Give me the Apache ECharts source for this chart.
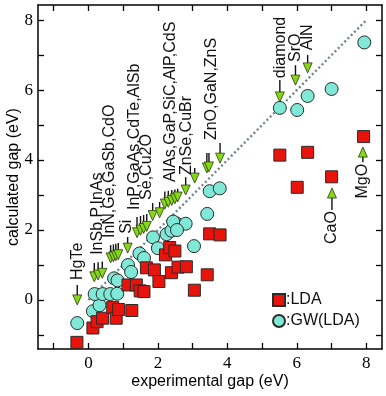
<!DOCTYPE html>
<html>
<head>
<meta charset="utf-8">
<script src="https://cdn.jsdelivr.net/npm/echarts@6/dist/echarts.min.js"></script>
<style>
html, body { margin: 0; padding: 0; background: #fff; }
#chart { width: 386px; height: 396px; }
</style>
</head>
<body>
<div id="chart"></div>
<script>
// LDA gaps (squares): experimental gap vs calculated gap
var ldaX = [-0.33, 0.13, 0.25, 0.41, 0.70, 0.80, 0.87, 1.14, 1.25, 1.38, 1.49, 1.60, 1.67, 1.90, 2.03,
            2.22, 2.34, 2.49, 2.39, 2.58, 2.82, 3.05, 3.42, 3.49, 3.79, 5.51, 6.01, 6.31, 7.00, 7.92];
var ldaY = [-1.21, -0.80, -0.62, -0.52, -0.21, -0.52, -0.27, 0.43, -0.30, 0.43, 0.26, 0.24, 0.92, 0.86, 0.53,
            1.29, 1.50, 1.40, 0.78, 0.94, 0.95, 0.28, 0.72, 1.89, 1.86, 4.14, 3.22, 4.22, 3.52, 4.67];
// GW(LDA) gaps (circles)
var gwX = [-0.32, 0.13, 0.32, 0.18, 0.41, 0.63, 0.83, 0.74, 0.84, 1.14, 1.23, 1.47, 1.60, 1.86, 2.00,
           2.25, 2.39, 2.53, 2.80, 2.44, 2.55, 3.04, 3.42, 3.49, 3.78, 5.51, 6.01, 6.31, 7.00, 7.94];
var gwY = [-0.66, -0.32, -0.15, 0.17, 0.17, 0.17, 0.18, 0.62, 0.56, 1.00, 0.80, 1.33, 1.20, 1.79, 1.48,
           1.88, 1.98, 2.19, 2.18, 2.24, 2.00, 1.54, 2.46, 3.11, 3.19, 5.49, 5.43, 5.83, 6.03, 7.36];

// arrows: x, tail y, tip y
var arrowX    = [-0.32, 0.17, 0.28, 0.40, 0.64, 0.72, 0.79, 0.86, 1.13, 1.40, 1.50, 1.59, 1.68, 1.85, 2.05,
                 2.20, 2.30, 2.40, 2.49, 2.57, 2.80, 3.06, 3.41, 3.47, 3.79, 5.51, 5.96, 6.31, 7.01, 7.90];
var arrowTail = [0.43, 1.06, 1.08, 1.10, 1.57, 1.59, 1.61, 1.63, 1.80, 2.37, 2.40, 2.43, 2.46, 2.77, 2.80,
                 3.10, 3.12, 3.14, 3.16, 3.18, 3.51, 3.77, 4.20, 4.20, 4.49, 6.29, 6.71, 7.00, 2.57, 3.94];
var arrowTip  = [-0.14, 0.52, 0.57, 0.62, 1.06, 1.09, 1.12, 1.15, 1.34, 1.78, 1.85, 1.90, 1.96, 2.27, 2.35,
                 2.60, 2.65, 2.70, 2.75, 2.80, 3.00, 3.34, 3.63, 3.66, 3.91, 5.66, 6.14, 6.49, 3.20, 4.37];

// compound labels: x, y of the end next to the arrow, text, which side of the anchor
var labelX    = [-0.32, 0.26, 0.61, 1.10, 1.33, 1.68, 2.37, 2.83, 3.55, 5.52, 5.95, 6.30, 6.99, 7.90];
var labelY    = [0.57, 1.29, 1.77, 1.89, 2.57, 2.86, 3.37, 3.57, 4.57, 6.34, 6.80, 7.14, 2.54, 3.89];
var labelText = ['HgTe', 'InSb,P,InAs', 'InN,Ge,GaSb,CdO', 'Si', 'InP,GaAs,CdTe,AlSb', 'Se,Cu2O',
                 'AlAs,GaP,SiC,AlP,CdS', 'ZnSe,CuBr', 'ZnO,GaN,ZnS', 'diamond', 'SrO', 'AlN', 'CaO', 'MgO'];
var labelSide = ['up', 'up', 'up', 'up', 'up', 'up', 'up', 'up', 'up', 'up', 'up', 'up', 'down', 'down'];

var majorTicks = [0, 2, 4, 6, 8];
var minorTicks = [-1, 0, 1, 2, 3, 4, 5, 6, 7, 8];
var diagonal = [[0, 0], [8, 8]];

function zip(a, b) { return a.map(function(v, i) { return [v, b[i]]; }); }

var chart = echarts.init(document.getElementById('chart'), null, { renderer: 'canvas' });

var serif = 'Liberation Serif';
var sans = 'Liberation Sans';

function axisBase(pos, min, max, showLabel) {
  return {
    type: 'value',
    position: pos,
    min: min,
    max: max,
    axisLine: { show: true, onZero: false, lineStyle: { color: '#000', width: 1.5 } },
    axisTick: { show: true, inside: true, length: 6, lineStyle: { color: '#000', width: 1.3 }, customValues: minorTicks },
    axisLabel: { show: showLabel, customValues: majorTicks, color: '#000', fontSize: 17, fontFamily: serif },
    splitLine: { show: false }
  };
}

var xBottom = axisBase('bottom', -1.45, 8.45, true);
xBottom.axisLabel.margin = 6;
xBottom.name = 'experimental gap (eV)';
xBottom.nameLocation = 'middle';
xBottom.nameGap = 25;
xBottom.nameMoveOverlap = false;
xBottom.nameTextStyle = { fontSize: 16, fontFamily: sans, color: '#000' };
var xTop = axisBase('top', -1.45, 8.45, false);

var yLeft = axisBase('left', -1.4, 8.43, true);
yLeft.axisLabel.margin = 5;
yLeft.name = 'calculated gap (eV)';
yLeft.nameLocation = 'middle';
yLeft.nameGap = 16;
yLeft.nameMoveOverlap = false;
yLeft.nameTextStyle = { fontSize: 16, fontFamily: sans, color: '#000' };
var yRight = axisBase('right', -1.4, 8.43, false);

function renderArrow(params, api) {
  var x = api.value(0);
  var a = api.coord([x, api.value(1)]);
  var b = api.coord([x, api.value(2)]);
  var dir = b[1] > a[1] ? 1 : -1;
  var headLen = 10, headW = 4.5;
  var baseY = b[1] - dir * headLen;
  return {
    type: 'group',
    children: [
      { type: 'line', shape: { x1: a[0], y1: a[1], x2: a[0], y2: baseY },
        style: { stroke: '#111', lineWidth: 1.4 } },
      { type: 'polygon', shape: { points: [[b[0], b[1]], [b[0] - headW, baseY], [b[0] + headW, baseY]] },
        style: { fill: '#84d815', stroke: '#2a3a10', lineWidth: 0.8 } }
    ]
  };
}

function renderLabel(params, api) {
  var i = params.dataIndex;
  var p = api.coord([api.value(0), api.value(1)]);
  return {
    type: 'text',
    x: p[0],
    y: p[1],
    rotation: Math.PI / 2,
    style: {
      text: labelText[i],
      align: labelSide[i] === 'down' ? 'right' : 'left',
      verticalAlign: 'middle',
      fontSize: 16,
      fontFamily: sans,
      fill: '#111'
    }
  };
}

chart.setOption({
  animation: false,
  grid: { left: 38, right: 4, top: 5, bottom: 47, containLabel: false, outerBoundsMode: 'none' },
  xAxis: [xBottom, xTop],
  yAxis: [yLeft, yRight],
  legend: {
    orient: 'vertical',
    left: 267,
    top: 287,
    itemWidth: 12,
    itemHeight: 12,
    itemGap: 5,
    data: ['LDA', 'GW(LDA)'],
    formatter: ':{name}',
    textStyle: { fontSize: 16, fontFamily: sans, color: '#111', padding: [0, 0, 0, -4] }
  },
  series: [
    {
      type: 'line',
      data: diagonal,
      symbol: 'none',
      silent: true,
      z: 1,
      lineStyle: { color: '#6b878b', width: 2.4, type: [2, 2.6] }
    },
    {
      name: 'GW(LDA)',
      type: 'scatter',
      data: zip(gwX, gwY),
      symbol: 'circle',
      symbolSize: 13,
      z: 3,
      itemStyle: { color: '#80e8d6', borderColor: '#2b2b2b', borderWidth: 1, opacity: 1 }
    },
    {
      name: 'LDA',
      type: 'scatter',
      data: zip(ldaX, ldaY),
      symbol: 'rect',
      symbolSize: 12,
      z: 4,
      itemStyle: { color: '#e8140c', borderColor: '#2b2b2b', borderWidth: 1, opacity: 1 }
    },
    {
      type: 'custom',
      data: arrowX.map(function(x, i) { return [x, arrowTail[i], arrowTip[i]]; }),
      renderItem: renderArrow,
      silent: true,
      clip: false,
      z: 5
    },
    {
      type: 'custom',
      data: zip(labelX, labelY),
      renderItem: renderLabel,
      silent: true,
      clip: false,
      z: 5
    }
  ]
});
</script>
</body>
</html>
